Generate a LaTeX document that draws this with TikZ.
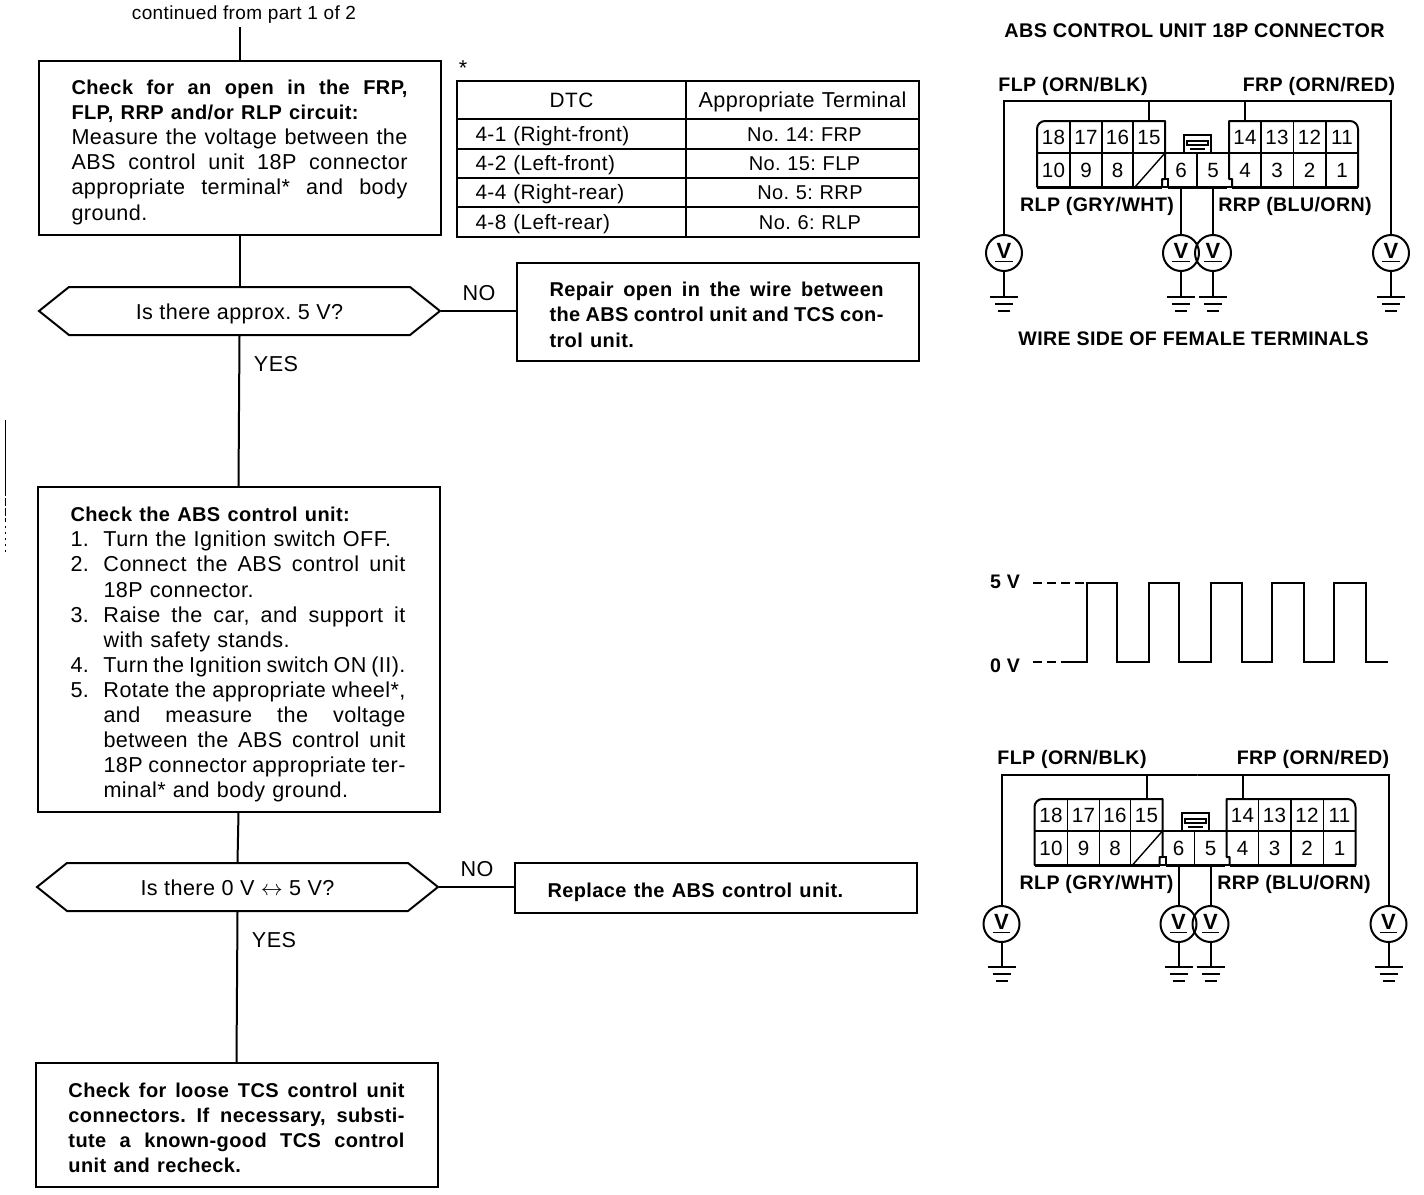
\documentclass[tikz,border=0pt]{standalone}
\usepackage{fontspec}
\setmainfont{Liberation Sans}[LetterSpace=2]
\usetikzlibrary{shapes.misc}
\AtBeginDocument{\frenchspacing}
\newcommand{\jbox}[2]{\leavevmode\hbox to #1{\spaceskip=.28em plus 1fil minus .2em\relax #2}}
\newcommand{\bb}[1]{{\bfseries\fontsize{10}{12.55}\selectfont #1}}
\newcommand{\jl}[1]{\jbox{168pt}{#1}}
\newcommand{\nl}[2]{\makebox[16.5pt][l]{#1}#2}
\newcommand{\ns}[2]{\makebox[16.5pt][l]{#1}\jbox{151pt}{#2}}
\newcommand{\cs}[1]{\makebox[16.5pt][l]{}\jbox{151pt}{#1}}
\newcommand{\firstline}[1]{\rule{0pt}{#1}}
\newcommand{\hextext}[1]{\raisebox{-4.2pt}[0pt][0pt]{#1}}
\newcommand{\connector}[5]{%
 % #1 prefix, #2 shift, #3 wire top y, #4 meter y, #5 ground y
 \begin{scope}[shift={#2}]
  \draw[thin line,line join=round] (1037,153) -- (1037,129) to[out=90,in=180] (1045,121) -- (1165,121) -- (1165,179) -- (1162,179) -- (1162,187) -- (1037,187) -- cycle;
  \draw[thin line,line join=round] (1229,179) -- (1229,121) -- (1350,121) to[out=0,in=90] (1358,129) -- (1358,187) -- (1232,187) -- (1232,179) -- cycle;
  \draw[thin line] (1162,187) -- (1168,187) -- (1168,179) -- (1165,179);
  \draw[thin line] (1168,187) -- (1232,187);
  \draw[line width=1.5pt] (1037,187.5) -- (1162,187.5) (1168,187.5) -- (1227,187.5) (1232,187.5) -- (1358,187.5);
  \draw[thin line] (1037,153) -- (1358,153);
  \foreach \lx in {1070,1102,1133,1261,1293.5,1326} \draw[hair line] (\lx,121) -- (\lx,187);
  \draw[hair line] (1197,153) -- (1197,187);
  \draw[hair line] (1135,187) -- (1165,153);
  \draw[thin line] (1184,153) -- (1184,135) -- (1211,135) -- (1211,153);
  \draw[thin line] (1187,141) -- (1208,141) -- (1208,145) -- (1187,145) -- cycle;
  \draw[thin line] (1190,149) -- (1205,149);
  \foreach \n/\cx/\cy in {18/1053.5/137,17/1086/137,16/1117.5/137,15/1149/137,14/1245/137,13/1277/137,12/1309.5/137,11/1342/137,10/1053.5/170,9/1086/170,8/1117.5/170,6/1181/170,5/1213/170,4/1245/170,3/1277/170,2/1309.5/170,1/1342/170}
   \node[cellnum] (#1c\n) at (\cx,\cy) {\n};
  \coordinate (#1top) at (1200,#3);
  \node[meter] (#1vL) at (1004,#4) {\underline{\kern.6pt V\kern.6pt}};
  \node[meter] (#1v6) at (1181,#4) {\underline{\kern.6pt V\kern.6pt}};
  \node[meter] (#1v5) at (1213,#4) {\underline{\kern.6pt V\kern.6pt}};
  \node[meter] (#1vR) at (1391,#4) {\underline{\kern.6pt V\kern.6pt}};
  \draw[wire] (#1c15.north) |- (#1top) -| (#1vL.north);
  \draw[wire] (#1c14.north) |- (#1top) -| (#1vR.north);
  \draw[wire] (#1c6.south) -- (#1v6.north);
  \draw[wire] (#1c5.south) -- (#1v5.north);
  \foreach \m in {vL,v6,v5,vR}{
   \coordinate (#1g\m) at (#1\m.south |- 0,#5);
   \draw[wire] (#1\m.south) -- (#1g\m);
   \draw[wire] ([xshift=-7pt]#1g\m) -- ([xshift=7pt]#1g\m);
   \draw[wire] ([xshift=-4.5pt,yshift=-3.5pt]#1g\m) -- ([xshift=4.5pt,yshift=-3.5pt]#1g\m);
   \draw[wire] ([xshift=-3pt,yshift=-7pt]#1g\m) -- ([xshift=3pt,yshift=-7pt]#1g\m);
  }
 \end{scope}}
\tikzset{
 x=.5pt,y=-.5pt,
 body/.style={font=\fontsize{10.8}{12.55}\selectfont},
 lbl/.style={font=\bfseries\fontsize{9.8}{12}\selectfont,inner sep=0pt,text height=7.2pt,text depth=0pt},
 box/.style={draw,line width=1pt,body,align=left,inner ysep=0pt,inner xsep=16.5pt,text width=168pt},
 hex/.style={draw,line width=1pt,body,chamfered rectangle,chamfered rectangle angle=51.34,chamfered rectangle xsep=15pt,chamfered rectangle ysep=12pt,minimum width=200.5pt,inner sep=0pt},
 conn/.style={line width=1pt},
 wire/.style={line width=1pt},
 thin line/.style={line width=1pt},
 hair line/.style={line width=.7pt},
 cell/.style={draw,line width=1pt,font=\fontsize{10.4}{12.55}\selectfont,inner ysep=0pt,inner xsep=0pt,text height=7pt,text depth=0pt},
 cellnum/.style={minimum width=16pt,minimum height=16pt,inner sep=0pt,text height=7.5pt,text depth=0pt,font=\fontsize{10.3}{12}\selectfont},
 meter/.style={circle,draw,line width=1pt,minimum size=18pt,inner sep=0pt,font=\bfseries\fontsize{11}{12}\selectfont},
 tag/.style={body,inner sep=0pt},
 wave/.style={line width=1.2pt,line join=miter},
}
\begin{document}
\begin{tikzpicture}
\useasboundingbox (0,0) rectangle (1424,1194);
\node[tag,inner ysep=1.5pt] (cont) at (244,15) {\fontsize{9.5}{11}\selectfont continued from part 1 of 2};
\node[box,minimum height=87pt] (b1) at (239.5,148) {%
\firstline{11.5pt}\jl{\bb{Check for an open in the FRP,}}\\
\bb{FLP, RRP and/or RLP circuit:}\\
\jl{Measure the voltage between the}\\
\jl{ABS control unit 18P connector}\\
\jl{appropriate terminal* and body}\\
ground.};
\node[hex] (h1) at (239.5,311) {\hextext{Is there approx. 5 V?}};
\node[box,minimum height=49pt] (b2) at (717.5,312) {%
\firstline{10pt}\jbox{167pt}{\bb{Repair open in the wire between}}\\
\jbox{167pt}{\bb{the ABS control unit and TCS con-}}\\
\bb{trol unit.}};
\node[box,minimum height=162.5pt] (b3) at (238.5,649.5) {%
\firstline{12.5pt}\bb{Check the ABS control unit:}\\
\nl{1.}{Turn the Ignition switch OFF.}\\
\ns{2.}{Connect the ABS control unit}\\
\nl{}{18P connector.}\\
\ns{3.}{Raise the car, and support it}\\
\nl{}{with safety stands.}\\
\ns{4.}{Turn the Ignition switch ON (II).}\\
\ns{5.}{Rotate the appropriate wheel*,}\\
\cs{and measure the voltage}\\
\cs{between the ABS control unit}\\
\cs{18P connector appropriate ter-}\\
\nl{}{minal* and body ground.}};
\node[hex] (h2) at (237.5,887) {\hextext{Is there 0 V \(\leftrightarrow\) 5 V?}};
\node[box,minimum height=25pt] (b4) at (715.5,888) {\firstline{12pt}\bb{Replace the ABS control unit.}};
\node[box,minimum height=62pt] (b5) at (236.5,1125) {%
\firstline{10pt}\jl{\bb{Check for loose TCS control unit}}\\
\jl{\bb{connectors. If necessary, substi-}}\\
\jl{\bb{tute a known-good TCS control}}\\
\bb{unit and recheck.}};
\draw[conn] (b1.north) -- (b1.north |- cont.south);
\draw[conn] (b1.south) -- (h1.north);
\draw[conn] (h1.south) -- (b3.north);
\draw[conn] (b3.south) -- (h2.north);
\draw[conn] (h2.south) -- (b5.north);
\draw[conn] (h1.east) -- (b2.west |- h1.east);
\draw[conn] (h2.east) -- (b4.west |- h2.east);
\node[tag] (no1) at (479,293) {NO};
\node[tag] (yes1) at (276,364) {YES};
\node[tag] (no2) at (477,869) {NO};
\node[tag] (yes2) at (274,940) {YES};
% table
\node[tag] (star) at (463,68) {*};
\node[cell,minimum width=114.5pt,minimum height=19pt,text width=114.5pt,align=center] (r0a) at (571.5,100) {DTC};
\node[cell,font=\fontsize{10.8}{12.55}\selectfont,minimum width=116.5pt,minimum height=19pt,text width=116.5pt,align=center] (r0b) at (802.5,100) {Appropriate Terminal};
\foreach \nm/\cy/\ch/\ttx/\ty in {r1/134/15/4-1 (Right-front)/\hspace*{2pt}No. 14: FRP,r2/163.5/14.5/4-2 (Left-front)/\hspace*{2pt}No. 15: FLP,r3/192.5/14.5/4-4 (Right-rear)/\hspace*{7.5pt}No. 5: RRP,r4/222/15/4-8 (Left-rear)/\hspace*{7.5pt}No. 6: RLP}{
 \node[cell,minimum width=114.5pt,minimum height=\ch pt,text width=96pt,align=left,inner xsep=9.25pt] (\nm a) at (571.5,\cy) {\ttx};
 \node[cell,font=\fontsize{10}{12.55}\selectfont,minimum width=116.5pt,minimum height=\ch pt,text width=116.5pt,align=center] (\nm b) at (802.5,\cy) {\ty};
}
% connector diagrams
\node[lbl,font=\bfseries\fontsize{9.9}{12}\selectfont] (title) at (1194.5,30) {ABS CONTROL UNIT 18P CONNECTOR};
\connector{a}{(0,0)}{101}{253}{297}
\connector{c}{(-2.5,678)}{97}{246}{289}
\node[lbl] (l1) at (1073,84) {FLP (ORN/BLK)};
\node[lbl] (l2) at (1319,84) {FRP (ORN/RED)};
\node[lbl] (l3) at (1097,204) {RLP (GRY/WHT)};
\node[lbl] (l4) at (1295,204) {RRP (BLU/ORN)};
\node[lbl] (l5) at (1193.5,338) {WIRE SIDE OF FEMALE TERMINALS};
\node[lbl] (l6) at (1072,757) {FLP (ORN/BLK)};
\node[lbl] (l7) at (1313,757) {FRP (ORN/RED)};
\node[lbl] (l8) at (1096.5,882) {RLP (GRY/WHT)};
\node[lbl] (l9) at (1294,882) {RRP (BLU/ORN)};
% waveform
\node[lbl] (v5) at (1005,581) {5 V};
\node[lbl] (v0) at (1005,665) {0 V};
\draw[line width=.8pt,dash pattern=on 4.5pt off 2.5pt] (1033,583) -- (1084,583);
\draw[line width=.8pt,dash pattern=on 4.5pt off 2.5pt] (1033,662) -- (1066,662);
\draw[wave] (1066,662) -- (1087,662) -- (1087,583) -- (1117,583) -- (1117,662) -- (1149,662) -- (1149,583) -- (1179,583) -- (1179,662) -- (1211,662) -- (1211,583) -- (1242,583) -- (1242,662) -- (1272,662) -- (1272,583) -- (1304,583) -- (1304,662) -- (1334,662) -- (1334,583) -- (1366,583) -- (1366,662) -- (1388,662);
% scan edge mark
\draw[line width=.5pt] (5,420) -- (5,488);
\draw[line width=.5pt,dash pattern=on 4pt off 1pt] (5,488) -- (5,520);
\draw[line width=.5pt,dash pattern=on 1pt off 2pt] (5,520) -- (5,553);
\end{tikzpicture}
\end{document}
